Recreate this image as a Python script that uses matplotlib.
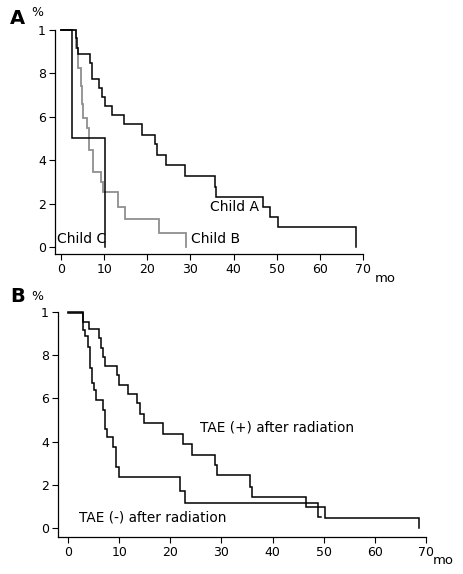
import matplotlib
matplotlib.use("Agg")
import matplotlib.pyplot as plt

# Panel A: survival by Child-Pugh class (step curves, value holds until next time)
childA_t = [0, 3.5, 3.7, 3.9, 6.6, 7.1, 8.9, 9.45, 10.2, 11.75, 14.5, 18.7, 21.8, 22.3, 24.3,
            28.8, 35.6, 36.0, 46.8, 48.5, 50.2, 68.4]
childA_s = [1.0, 0.962, 0.916, 0.889, 0.846, 0.773, 0.731, 0.690, 0.650, 0.608, 0.567, 0.516,
            0.474, 0.424, 0.378, 0.327, 0.278, 0.232, 0.186, 0.137, 0.091, 0.0]

childB_t = [0, 3.5, 3.87, 4.57, 4.8, 5.0, 6.1, 6.57, 7.3, 9.2, 9.7, 13.3, 14.85, 22.8, 29.0]
childB_s = [1.0, 0.915, 0.823, 0.74, 0.66, 0.593, 0.547, 0.447, 0.347, 0.301, 0.255, 0.186,
            0.128, 0.066, 0.0]

childC_t = [0, 2.55, 10.3]
childC_s = [1.0, 0.504, 0.0]

# Panel B: TAE after radiation
taeP_t = [0, 3.0, 4.17, 6.1, 6.4, 6.8, 7.24, 9.5, 10.0, 11.8, 13.4, 14.1, 14.9, 18.5, 22.4,
          24.2, 28.8, 29.2, 35.5, 35.9, 46.6, 50.3, 68.6]
taeP_s = [1.0, 0.954, 0.92, 0.878, 0.833, 0.79, 0.75, 0.71, 0.662, 0.619, 0.577, 0.526, 0.485,
          0.434, 0.389, 0.338, 0.292, 0.245, 0.191, 0.145, 0.096, 0.045, 0.0]

taeN_t = [0, 2.87, 3.3, 3.9, 4.3, 4.6, 5.0, 5.4, 6.8, 7.24, 7.6, 8.87, 9.4, 10.0, 21.8, 22.9,
          48.8, 49.4]
taeN_s = [0.993, 0.917, 0.89, 0.84, 0.74, 0.67, 0.64, 0.593, 0.546, 0.46, 0.422, 0.373, 0.28,
          0.234, 0.173, 0.114, 0.05, 0.05]

xticks = [0, 10, 20, 30, 40, 50, 60, 70]
yticks = [0, 0.2, 0.4, 0.6, 0.8, 1.0]
ytick_labels = ["0", "2", "4", "6", "8", "1"]


def km(ax, t, s, color, lw=1.1):
    # horizontal at s[i] from t[i] to t[i+1], then vertical drop
    xs, ys = [], []
    for i in range(len(t) - 1):
        xs += [t[i], t[i + 1]]
        ys += [s[i], s[i]]
    xs.append(t[-1])
    ys.append(s[-1])
    ax.plot(xs, ys, color=color, lw=lw, clip_on=False, solid_joinstyle="miter")


def style(ax, xlim, ylim):
    ax.set_xlim(*xlim)
    ax.set_ylim(*ylim)
    for sp in ["top", "right"]:
        ax.spines[sp].set_visible(False)
    for sp in ["left", "bottom"]:
        ax.spines[sp].set_linewidth(0.9)
    ax.set_xticks(xticks)
    ax.set_xticklabels([str(v) for v in xticks])
    ax.set_yticks(yticks)
    ax.set_yticklabels(ytick_labels)
    ax.tick_params(direction="out", length=4.5, width=0.8, labelsize=9, pad=2)


fig = plt.figure(figsize=(4.63, 5.74), dpi=100)

axA = fig.add_axes([0.1188, 0.5575, 0.665, 0.3902])
style(axA, (-1.4, 70), (-0.032, 1.0))
km(axA, childB_t, childB_s, "#8f8f8f", lw=1.3)
km(axA, childA_t, childA_s, "black")
km(axA, childC_t, childC_s, "black")
axA.text(34.6, 0.184, "Child A", fontsize=10, va="center", ha="left")
axA.text(30.1, 0.037, "Child B", fontsize=10, va="center", ha="left")
axA.text(-1.0, 0.037, "Child C", fontsize=10, va="center", ha="left")

axB = fig.add_axes([0.1253, 0.0645, 0.7948, 0.3920])
style(axB, (-1.96, 70), (-0.042, 1.0))
km(axB, taeP_t, taeP_s, "black")
km(axB, taeN_t, taeN_s, "black")
axB.text(25.8, 0.463, "TAE (+) after radiation", fontsize=9.8, va="center", ha="left")
axB.text(2.2, 0.05, "TAE (-) after radiation", fontsize=9.8, va="center", ha="left")

# panel letters, units
fig.text(10 / 463, 1 - 18 / 574, "A", fontsize=14, fontweight="bold", va="center", ha="left")
fig.text(31 / 463, 1 - 13 / 574, "%", fontsize=9, va="center", ha="left")
fig.text(375 / 463, 1 - 279 / 574, "mo", fontsize=9.5, va="center", ha="left")
fig.text(10 / 463, 1 - 297 / 574, "B", fontsize=14, fontweight="bold", va="center", ha="left")
fig.text(31 / 463, 1 - 297 / 574, "%", fontsize=9, va="center", ha="left")
fig.text(433 / 463, 1 - 561 / 574, "mo", fontsize=9.5, va="center", ha="left")

fig.savefig("out.png", dpi=100, facecolor="white")
